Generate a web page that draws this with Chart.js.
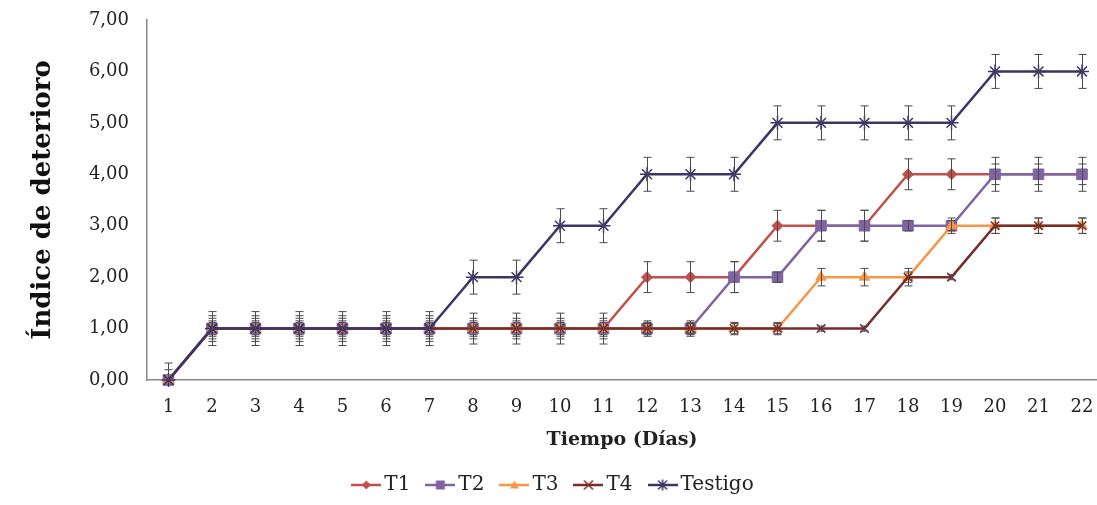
<!DOCTYPE html>
<html>
<head>
<meta charset="utf-8">
<script src="https://cdn.jsdelivr.net/npm/chart.js@4.4.1/dist/chart.umd.min.js"></script>
<style>
  html, body { margin: 0; padding: 0; background: #fff; overflow: hidden; }
</style>
</head>
<body>
<canvas id="deterioro" width="1097" height="505"></canvas>
<script>
// Days (x categories)
const days = [1, 2, 3, 4, 5, 6, 7, 8, 9, 10, 11, 12, 13, 14, 15, 16, 17, 18, 19, 20, 21, 22];
const yTickLabels = ['0,00', '1,00', '2,00', '3,00', '4,00', '5,00', '6,00', '7,00'];

// Series values
const t1 = [0, 1, 1, 1, 1, 1, 1, 1, 1, 1, 1, 2, 2, 2, 3, 3, 3, 4, 4, 4, 4, 4];
const t2 = [0, 1, 1, 1, 1, 1, 1, 1, 1, 1, 1, 1, 1, 2, 2, 3, 3, 3, 3, 4, 4, 4];
const t3 = [0, 1, 1, 1, 1, 1, 1, 1, 1, 1, 1, 1, 1, 1, 1, 2, 2, 2, 3, 3, 3, 3];
const t4 = [0, 1, 1, 1, 1, 1, 1, 1, 1, 1, 1, 1, 1, 1, 1, 1, 1, 2, 2, 3, 3, 3];
const testigo = [0, 1, 1, 1, 1, 1, 1, 2, 2, 3, 3, 4, 4, 4, 5, 5, 5, 5, 5, 6, 6, 6];

// Error bar half-lengths (estimated)
const errT1 = [0.2, 0.25, 0.25, 0.25, 0.25, 0.25, 0.25, 0.3, 0.3, 0.3, 0.3, 0.3, 0.3, 0.3, 0.3, 0.3, 0.3, 0.3, 0.3, 0.33, 0.33, 0.33];
const errT2 = [0, 0.2, 0.2, 0.2, 0.2, 0.2, 0.2, 0.2, 0.2, 0.2, 0.2, 0.15, 0.15, 0.3, 0.1, 0.3, 0.3, 0.1, 0.1, 0.2, 0.2, 0.2];
const errT3 = [0, 0.15, 0.15, 0.15, 0.15, 0.15, 0.15, 0.15, 0.15, 0.15, 0.15, 0.12, 0.12, 0.12, 0.12, 0.17, 0.17, 0.17, 0.15, 0.15, 0.15, 0.15];
const errT4 = [0, 0.12, 0.12, 0.12, 0.12, 0.12, 0.12, 0.12, 0.12, 0.12, 0.12, 0.1, 0.1, 0.1, 0.1, 0.05, 0.05, 0.1, 0.05, 0.15, 0.15, 0.15];
const errTestigo = [0.33, 0.33, 0.33, 0.33, 0.33, 0.33, 0.33, 0.33, 0.33, 0.33, 0.33, 0.33, 0.33, 0.33, 0.33, 0.33, 0.33, 0.33, 0.33, 0.33, 0.33, 0.33];

const series = [
  { label: 'T1', values: t1, err: errT1, color: '#C0504D', style: 'rectRot', radius: 5.5 },
  { label: 'T2', values: t2, err: errT2, color: '#8064A2', style: 'rect', radius: 7.5 },
  { label: 'T3', values: t3, err: errT3, color: '#F79646', style: 'triangle', radius: 6 },
  { label: 'T4', values: t4, err: errT4, color: '#772C2A', style: 'crossRot', radius: 6 },
  { label: 'Testigo', values: testigo, err: errTestigo, color: '#3D3468', style: 'star', radius: 7 }
];

const serif = "'DejaVu Serif', 'Liberation Serif', serif";

// small marker painter for the legend icons
function drawMarker(ctx, style, x, y, r, color) {
  ctx.fillStyle = color;
  ctx.strokeStyle = color;
  ctx.lineWidth = 1.5;
  ctx.beginPath();
  if (style === 'rectRot') {
    ctx.moveTo(x, y - r); ctx.lineTo(x + r, y); ctx.lineTo(x, y + r); ctx.lineTo(x - r, y);
    ctx.closePath(); ctx.fill();
  } else if (style === 'rect') {
    ctx.rect(x - r, y - r, 2 * r, 2 * r); ctx.fill();
  } else if (style === 'triangle') {
    ctx.moveTo(x, y - r); ctx.lineTo(x + r, y + r * 0.8); ctx.lineTo(x - r, y + r * 0.8);
    ctx.closePath(); ctx.fill();
  } else if (style === 'crossRot') {
    ctx.moveTo(x - r, y - r); ctx.lineTo(x + r, y + r);
    ctx.moveTo(x + r, y - r); ctx.lineTo(x - r, y + r); ctx.stroke();
  } else if (style === 'star') {
    ctx.moveTo(x - r, y - r); ctx.lineTo(x + r, y + r);
    ctx.moveTo(x + r, y - r); ctx.lineTo(x - r, y + r);
    ctx.moveTo(x, y - r * 1.2); ctx.lineTo(x, y + r * 1.2); ctx.stroke();
  }
}

// legend icons: line with the marker in the middle
const icons = series.map(s => {
  const c = document.createElement('canvas');
  c.width = 30; c.height = 14;
  const g = c.getContext('2d');
  g.strokeStyle = s.color;
  g.lineWidth = 2.5;
  g.beginPath(); g.moveTo(0, 7); g.lineTo(30, 7); g.stroke();
  drawMarker(g, s.style, 15, 7, 4.5, s.color);
  return c;
});

// error bars drawn over the lines
const errorBars = {
  id: 'errorBars',
  afterDatasetsDraw(chart) {
    const { ctx, chartArea, scales } = chart;
    ctx.save();
    ctx.beginPath();
    ctx.rect(chartArea.left, chartArea.top, chartArea.right - chartArea.left, chartArea.bottom - chartArea.top);
    ctx.clip();
    ctx.strokeStyle = '#4a4a4a';
    ctx.lineWidth = 1;
    series.forEach(s => {
      s.values.forEach((v, j) => {
        const e = s.err[j];
        if (!e) return;
        const x = Math.round(scales.x.getPixelForValue(days[j])) + 0.5;
        const yTop = scales.y.getPixelForValue(v + e);
        const yBot = scales.y.getPixelForValue(v - e);
        ctx.beginPath();
        ctx.moveTo(x, yTop); ctx.lineTo(x, yBot);
        ctx.moveTo(x - 4, yTop); ctx.lineTo(x + 4, yTop);
        ctx.moveTo(x - 4, yBot); ctx.lineTo(x + 4, yBot);
        ctx.stroke();
      });
    });
    ctx.restore();
  }
};

const ctx = document.getElementById('deterioro').getContext('2d');

new Chart(ctx, {
  type: 'line',
  data: {
    datasets: series.map((s, i) => ({
      label: s.label,
      data: s.values.map((v, j) => ({ x: days[j], y: v })),
      borderColor: s.color,
      backgroundColor: s.color,
      borderWidth: 2.5,
      pointStyle: s.style,
      pointRadius: s.radius,
      pointHoverRadius: s.radius,
      pointBorderWidth: (s.style === 'crossRot' || s.style === 'star') ? 1.5 : 1,
      tension: 0,
      clip: 10,
      order: series.length - i
    }))
  },
  options: {
    responsive: false,
    animation: false,
    layout: { autoPadding: false, padding: { left: 15, right: 0, top: 20, bottom: 0 } },
    plugins: {
      legend: {
        position: 'bottom',
        labels: {
          usePointStyle: true,
          pointStyleWidth: 16,
          padding: 22,
          color: '#222',
          font: { family: serif, size: 20 },
          generateLabels(chart) {
            const items = Chart.defaults.plugins.legend.labels.generateLabels(chart);
            items.sort((a, b) => a.datasetIndex - b.datasetIndex);
            items.forEach(it => { it.pointStyle = icons[it.datasetIndex]; });
            return items;
          }
        }
      },
      tooltip: { enabled: false }
    },
    scales: {
      x: {
        type: 'linear',
        min: 0.506,
        max: 22.345,
        afterBuildTicks(axis) {
          axis.ticks = days.map(d => ({ value: d }));
        },
        afterFit(axis) {
          axis.height = 73;
          axis.paddingLeft = 0;
          axis.paddingRight = 0;
        },
        grid: { display: false, drawTicks: false },
        border: { display: true, color: '#8a8a8a', width: 1.5 },
        ticks: {
          padding: 17,
          color: '#222',
          font: { family: serif, size: 18 },
          autoSkip: false,
          maxRotation: 0,
          callback: v => String(v)
        },
        title: {
          display: true,
          text: 'Tiempo (Días)',
          color: '#222',
          font: { family: serif, size: 19, weight: 'bold' },
          padding: { top: 10, bottom: 2 }
        }
      },
      y: {
        min: 0,
        max: 7,
        afterFit(axis) {
          axis.width = 132;
          axis.paddingTop = 0;
          axis.paddingBottom = 0;
        },
        grid: { display: false, drawTicks: false },
        border: { display: true, color: '#8a8a8a', width: 1.5 },
        ticks: {
          stepSize: 1,
          padding: 18,
          color: '#222',
          font: { family: serif, size: 18 },
          callback: v => yTickLabels[v]
        },
        title: {
          display: true,
          text: 'Índice de deterioro',
          color: '#111',
          font: { family: serif, size: 26, weight: 'bold' },
          padding: { top: 13, bottom: 0 }
        }
      }
    }
  },
  plugins: [errorBars]
});
</script>
</body>
</html>
